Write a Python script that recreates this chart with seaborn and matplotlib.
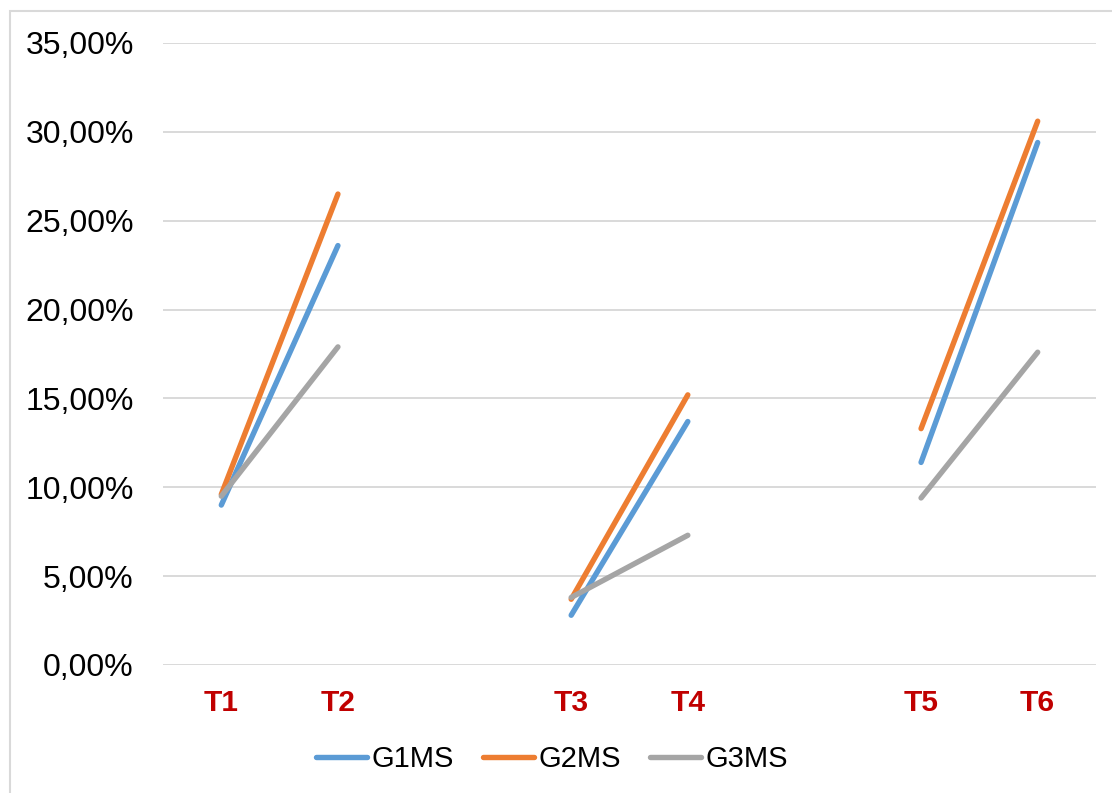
import numpy as np
import pandas as pd
import matplotlib
matplotlib.use("Agg")
import matplotlib.pyplot as plt
from matplotlib.ticker import FuncFormatter, MultipleLocator
from matplotlib.patches import Rectangle
from matplotlib.lines import Line2D
import seaborn as sns

categories = ["T1", "T2", "", "T3", "T4", "", "T5", "T6"]
series = ["G1MS", "G2MS", "G3MS"]
g1ms = [9.0, 23.6, np.nan, 2.8, 13.7, np.nan, 11.4, 29.4]
g2ms = [9.6, 26.5, np.nan, 3.7, 15.2, np.nan, 13.3, 30.6]
g3ms = [9.5, 17.9, np.nan, 3.8, 7.3, np.nan, 9.4, 17.6]
colors = ["#5B9BD5", "#ED7D31", "#A5A5A5"]

sns.set_theme(style="white")
plt.rcParams['font.family'] = ['Liberation Sans', 'DejaVu Sans']
plt.rcParams['text.color'] = 'black'

rows = []
for name, vals in zip(series, [g1ms, g2ms, g3ms]):
    seg = 0
    for i, v in enumerate(vals):
        if np.isnan(v):
            seg += 1
            continue
        rows.append({"x": i, "value": v, "series": name, "seg": f"{name}_{seg}"})
df = pd.DataFrame(rows)

fig = plt.figure(figsize=(11.12, 7.93), dpi=100)
ax = fig.add_axes([163/1112, 1-665/793, (1096-163)/1112, (665-43)/793])

sns.lineplot(data=df, x="x", y="value", hue="series", units="seg", estimator=None,
             palette=colors, hue_order=series, linewidth=3.9, ax=ax, legend=False,
             solid_capstyle="round")

ax.set_xlim(-0.5, len(categories) - 0.5)
ax.set_ylim(0, 35)
ax.yaxis.set_major_locator(MultipleLocator(5))
ax.yaxis.set_major_formatter(FuncFormatter(lambda v, p: f"{v:.2f}".replace(".", ",") + "%"))
ax.set_xticks(range(len(categories)))
ax.set_xticklabels(categories)
ax.grid(axis="y", color="#D9D9D9", linewidth=1.4)
ax.grid(axis="x", visible=False)
ax.set_axisbelow(True)
for s in ax.spines.values():
    s.set_visible(False)
ax.tick_params(axis="y", length=0, pad=21, labelsize=23, labelcolor="black")
ax.tick_params(axis="x", length=0, pad=17, labelsize=21.5, labelcolor="#C00000")
for t in ax.get_xticklabels():
    t.set_fontweight("bold")
ax.set_xlabel("")
ax.set_ylabel("")

handles = [Line2D([0], [0], color=c, linewidth=3.9, solid_capstyle="round") for c in colors]
fig.legend(handles, series, loc="center", bbox_to_anchor=(552/1112, 1-759/793),
           ncol=3, frameon=False, fontsize=21, handlelength=1.75, handletextpad=0.15,
           columnspacing=1.0, labelcolor="black")

fig.add_artist(Rectangle((10/1112, -0.1), 1.2, (793-11)/793 + 0.1, transform=fig.transFigure,
                         fill=False, edgecolor="#D9D9D9", linewidth=1.5))

fig.savefig("out.png", dpi=100)
